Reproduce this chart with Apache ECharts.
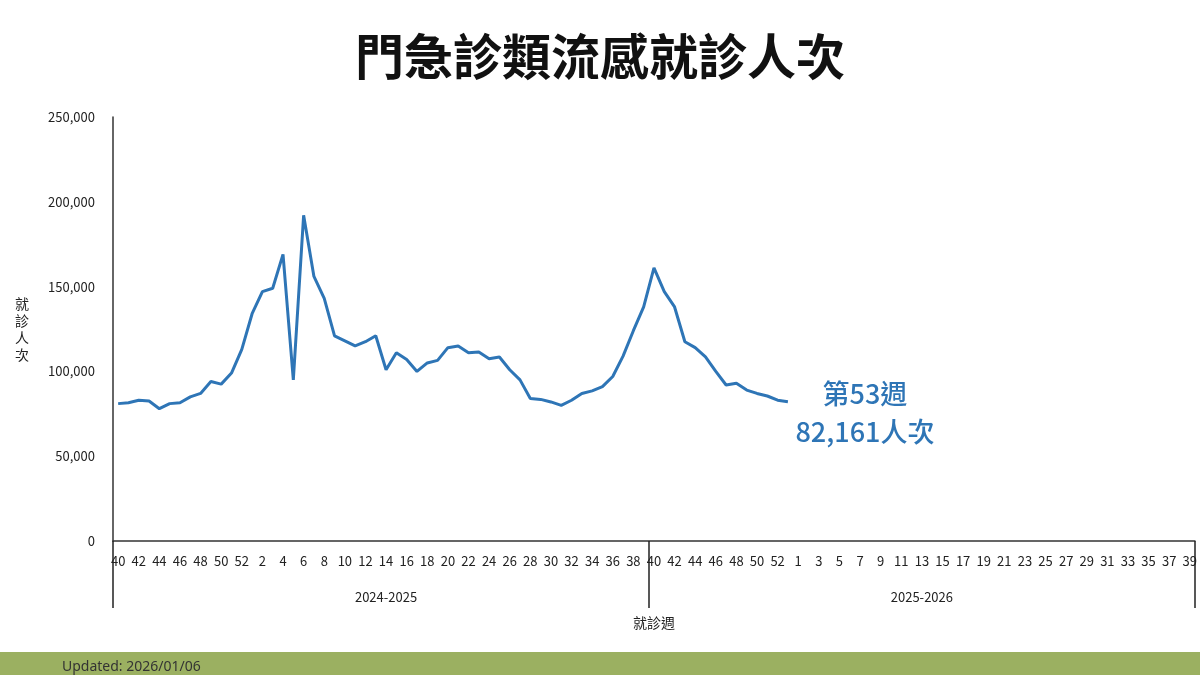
<!DOCTYPE html>
<html><head><meta charset="utf-8">
<script src="https://cdn.jsdelivr.net/npm/echarts@6/dist/echarts.min.js"></script>
<style>html,body{margin:0;padding:0;background:#fff}#c{width:1200px;height:675px}</style>
</head><body><div id="c"></div>
<script>
const season1Weeks = [40,41,42,43,44,45,46,47,48,49,50,51,52,1,2,3,4,5,6,7,8,9,10,11,12,13,14,15,16,17,18,19,20,21,22,23,24,25,26,27,28,29,30,31,32,33,34,35,36,37,38,39];
const season2Weeks = [40,41,42,43,44,45,46,47,48,49,50,51,52,53,1,2,3,4,5,6,7,8,9,10,11,12,13,14,15,16,17,18,19,20,21,22,23,24,25,26,27,28,29,30,31,32,33,34,35,36,37,38,39];
const seasonLabels = ['2024-2025','2025-2026'];
const season1Values = [81000,81500,83000,82500,78000,81000,81500,85000,87000,94000,92500,99000,113000,134000,147000,149000,169000,95000,192000,156000,143000,121000,118000,115000,117500,121000,101000,111000,107000,100000,105000,106500,114000,115000,111000,111500,107500,108500,101000,95000,84000,83500,82000,80000,83000,87000,88500,91000,97000,109000,124000,138000];
const season2Values = [161000,147000,138000,117500,114000,108500,100000,92000,93000,89000,87000,85500,83000,82161];

const cats = season1Weeks.map((w,i)=>'s1-'+i).concat(season2Weeks.map((w,i)=>'s2-'+i));
const weekOf = season1Weeks.concat(season2Weeks);
const n1 = season1Weeks.length;
const values = season1Values.concat(season2Values);
const lastIdx = values.length-1;

const chart = echarts.init(document.getElementById('c'));
chart.setOption({
  animation:false,
  textStyle:{fontFamily:'Noto Sans CJK TC'},
  title:{text:'門急診類流感就診人次',left:'center',top:27,textStyle:{fontSize:49,fontWeight:'bold',color:'#111',fontFamily:'Noto Sans CJK TC'}},
  grid:{left:113,right:5,top:117,bottom:134},
  xAxis:[{
    type:'category',data:cats,boundaryGap:true,
    axisLine:{lineStyle:{color:'#333',width:1.5}},
    axisTick:{show:false},
    axisLabel:{interval:0,color:'#222',fontSize:13,margin:14,
      formatter:(v,i)=> (i%2===0 ? String(weekOf[i]) : '')}
  },{
    type:'category',data:cats,position:'bottom',boundaryGap:true,
    axisLine:{show:false},
    axisTick:{show:true,length:67,alignWithLabel:false,interval:(i)=> i===0||i===n1,lineStyle:{color:'#222',width:1.5}},
    axisLabel:{interval:0,color:'#222',fontSize:13,margin:50,
      formatter:(v,i)=> i===26?seasonLabels[0]:(i===n1+26?seasonLabels[1]:'')},
    name:'就診週',nameLocation:'middle',nameGap:75,nameTextStyle:{fontSize:14,color:'#222'}
  }],
  yAxis:{type:'value',min:0,max:250000,interval:50000,
    axisLine:{show:true,lineStyle:{color:'#333',width:1.5}},
    splitLine:{show:false},axisTick:{show:false},
    axisLabel:{color:'#222',fontSize:13,margin:18,formatter:v=>v.toLocaleString('en-US')},
    name:'就\n診\n人\n次',nameLocation:'middle',nameGap:84,nameRotate:0,
    nameTextStyle:{fontSize:14,color:'#222',lineHeight:17}},
  graphic:[
    {type:'rect',shape:{x:0,y:652,width:1200,height:23},style:{fill:'#9bb061'}},
    {type:'text',x:62,y:660,style:{text:'Updated: 2026/01/06',fill:'#333',font:'14px "Noto Sans"'}}
  ],
  series:[{type:'line',data:values,showSymbol:false,symbol:'none',
    lineStyle:{color:'#2e75b6',width:3},itemStyle:{color:'#2e75b6'},
    markPoint:{symbol:'circle',symbolSize:0,
      data:[{coord:[cats[lastIdx],values[lastIdx]]}],
      label:{show:true,position:'inside',offset:[77,11],
        formatter:'第53週\n82,161人次',color:'#2e75b6',fontSize:27,fontWeight:500,lineHeight:38,align:'center',
        fontFamily:'Noto Sans CJK TC'}}}]
});
</script></body></html>
